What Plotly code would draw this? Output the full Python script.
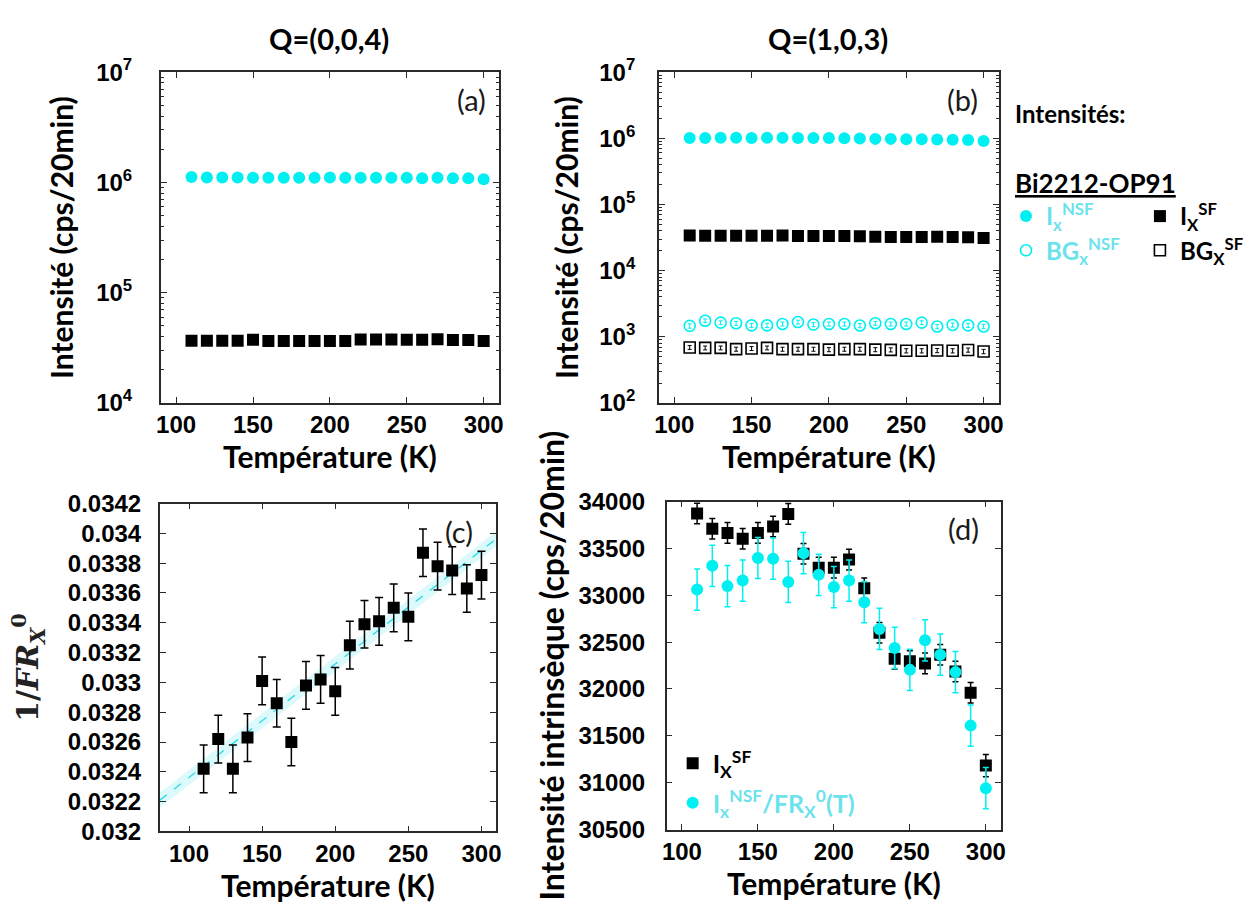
import numpy as np
import plotly.graph_objects as go

W, H = 1260, 917

# ---------------- data ----------------
temperature_K = [110, 120, 130, 140, 150, 160, 170, 180, 190, 200,
                 210, 220, 230, 240, 250, 260, 270, 280, 290, 300]

# (a) Q=(0,0,4)
a_I_nsf = [1.12e6, 1.11e6, 1.11e6, 1.11e6, 1.10e6, 1.10e6, 1.10e6, 1.10e6, 1.10e6, 1.11e6,
           1.10e6, 1.10e6, 1.10e6, 1.10e6, 1.10e6, 1.09e6, 1.10e6, 1.09e6, 1.09e6, 1.07e6]
a_I_sf = [36700, 36700, 36700, 36700, 37400, 36400, 36400, 36400, 36400, 36400,
          36400, 37700, 37700, 37700, 37400, 37400, 37900, 37200, 37200, 36400]

# (b) Q=(1,0,3)
b_I_nsf = [1.01e6, 1.01e6, 1.02e6, 1.02e6, 1.01e6, 1.02e6, 1.02e6, 1.01e6, 1.01e6, 1.01e6,
           1.00e6, 0.99e6, 0.98e6, 0.98e6, 0.97e6, 0.97e6, 0.96e6, 0.95e6, 0.94e6, 0.91e6]
b_I_sf = [33900, 33700, 33700, 33600, 33700, 33700, 33900, 33400, 33300, 33300,
          33400, 33100, 32600, 32300, 32300, 32300, 32400, 32200, 32000, 31200]
b_BG_nsf = [1460, 1750, 1635, 1600, 1490, 1490, 1560, 1670, 1530, 1560,
            1560, 1480, 1600, 1560, 1560, 1635, 1430, 1510, 1490, 1430]
b_BG_nsf_err = [110, 110, 110, 110, 110, 110, 110, 110, 110, 110,
                110, 110, 110, 110, 110, 110, 110, 110, 110, 110]
b_BG_sf = [690, 680, 680, 650, 665, 680, 650, 650, 650, 640,
           650, 650, 640, 635, 615, 615, 620, 615, 630, 600]
b_BG_sf_err = [45, 45, 45, 45, 45, 45, 45, 45, 45, 45,
               45, 45, 45, 45, 45, 45, 45, 45, 45, 45]

# (c) 1/FR_X^0
c_inv_FR = [0.03242, 0.03262, 0.03242, 0.03263, 0.03301, 0.03286, 0.03260, 0.03298, 0.03302, 0.03294,
            0.03325, 0.03339, 0.03341, 0.03350, 0.03344, 0.03387, 0.03378, 0.03375, 0.03363, 0.03372]
c_inv_FR_err = [0.00016, 0.00016, 0.00016, 0.00016, 0.00016, 0.00016, 0.00016, 0.00016, 0.00016, 0.00016,
                0.00016, 0.00016, 0.00016, 0.00016, 0.00016, 0.00016, 0.00016, 0.00016, 0.00016, 0.00016]
c_fit_T = [80, 310]
c_fit_band_half = 0.00005
c_ytickvals = [0.032, 0.0322, 0.0324, 0.0326, 0.0328, 0.033, 0.0332, 0.0334, 0.0336, 0.0338, 0.034, 0.0342]
c_yticktext = ["0.032", "0.0322", "0.0324", "0.0326", "0.0328", "0.033", "0.0332", "0.0334",
               "0.0336", "0.0338", "0.034", "0.0342"]

# (d) intrinsic intensity
d_I_sf = [33873, 33711, 33666, 33604, 33666, 33735, 33869, 33443, 33295, 33295,
          33381, 33074, 32600, 32324, 32297, 32273, 32366, 32187, 31960, 31182]
d_I_sf_err = [110, 110, 110, 110, 110, 110, 110, 110, 110, 110,
              110, 110, 110, 110, 110, 110, 110, 110, 110, 120]
d_I_nsf_corr = [33061, 33315, 33098, 33157, 33398, 33391, 33143, 33449, 33219, 33088,
                33157, 32926, 32641, 32438, 32204, 32520, 32366, 32180, 31609, 30941]
d_I_nsf_corr_err = [220, 220, 220, 220, 220, 220, 220, 220, 220, 220,
                    220, 220, 220, 220, 220, 220, 220, 220, 220, 220]

a_log_ticks = [1e4, 1e5, 1e6, 1e7]
a_log_text = ["10<sup>4</sup>", "10<sup>5</sup>", "10<sup>6</sup>", "10<sup>7</sup>"]
b_log_ticks = [1e2, 1e3, 1e4, 1e5, 1e6, 1e7]
b_log_text = ["10<sup>2</sup>", "10<sup>3</sup>", "10<sup>4</sup>", "10<sup>5</sup>",
              "10<sup>6</sup>", "10<sup>7</sup>"]
minor_mantissas = [2, 3, 4, 5, 6, 7, 8, 9]

# ---------------- styles ----------------
CYAN = "#00F0F2"
CYAN_TXT = "#6CE2EC"
BLACK = "#000000"
AXC = "#2a2a2a"
TICKFONT = dict(family="Liberation Sans", size=24, color="black", weight="bold")
TITLEFONT = dict(family="Lato", size=30, color="black", weight="bold")


def dom_x(l, r):
    return [l / W, r / W]


def dom_y(t, b):
    return [1 - b / H, 1 - t / H]


def base_axis(**kw):
    d = dict(showline=True, linecolor=AXC, linewidth=1.5, mirror="ticks",
             ticks="inside", ticklen=6, tickwidth=1.3, tickcolor=AXC,
             showgrid=False, zeroline=False, tickfont=TICKFONT)
    d.update(kw)
    return d


def log_minor(lo, hi):
    return [m * 10.0 ** e for e in range(lo, hi) for m in minor_mantissas]


fig = go.Figure()

# ----- panel (a) -----
fig.add_trace(go.Scatter(x=temperature_K, y=a_I_nsf, mode="markers", xaxis="x", yaxis="y",
                         marker=dict(symbol="circle", size=12, color=CYAN), showlegend=False))
fig.add_trace(go.Scatter(x=temperature_K, y=a_I_sf, mode="markers", xaxis="x", yaxis="y",
                         marker=dict(symbol="square", size=12, color=BLACK), showlegend=False))

# ----- panel (b) -----
fig.add_trace(go.Scatter(x=temperature_K, y=b_I_nsf, mode="markers", xaxis="x2", yaxis="y2",
                         marker=dict(symbol="circle", size=12, color=CYAN),
                         name="I<sub>x</sub><sup>NSF</sup>", legend="legend2"))
fig.add_trace(go.Scatter(x=temperature_K, y=b_BG_nsf, mode="markers", xaxis="x2", yaxis="y2",
                         marker=dict(symbol="circle-open", size=11, color=CYAN, line=dict(width=1.6)),
                         error_y=dict(type="data", array=b_BG_nsf_err, color=CYAN, thickness=1, width=2),
                         name="BG<sub>x</sub><sup>NSF</sup>", legend="legend2"))
fig.add_trace(go.Scatter(x=temperature_K, y=b_I_sf, mode="markers", xaxis="x2", yaxis="y2",
                         marker=dict(symbol="square", size=12, color=BLACK),
                         name="I<sub>X</sub><sup>SF</sup>", legend="legend3"))
fig.add_trace(go.Scatter(x=temperature_K, y=b_BG_sf, mode="markers", xaxis="x2", yaxis="y2",
                         marker=dict(symbol="square-open", size=11, color=BLACK, line=dict(width=1.6)),
                         error_y=dict(type="data", array=b_BG_sf_err, color=BLACK, thickness=1, width=2),
                         name="BG<sub>X</sub><sup>SF</sup>", legend="legend3"))

# ----- panel (c) -----
slope, intercept = np.polyfit(temperature_K, c_inv_FR, 1)
fit_y = [slope * t + intercept for t in c_fit_T]
fig.add_trace(go.Scatter(x=c_fit_T, y=[v - c_fit_band_half for v in fit_y], mode="lines",
                         xaxis="x3", yaxis="y3", line=dict(width=0, color=CYAN),
                         showlegend=False, hoverinfo="skip"))
fig.add_trace(go.Scatter(x=c_fit_T, y=[v + c_fit_band_half for v in fit_y], mode="lines",
                         xaxis="x3", yaxis="y3", line=dict(width=0, color=CYAN),
                         fill="tonexty", fillcolor="rgba(130,238,246,0.28)",
                         showlegend=False, hoverinfo="skip"))
fig.add_trace(go.Scatter(x=c_fit_T, y=fit_y, mode="lines", xaxis="x3", yaxis="y3",
                         line=dict(width=1.2, color="#19D8E6", dash="dash"), showlegend=False))
fig.add_trace(go.Scatter(x=temperature_K, y=c_inv_FR, mode="markers", xaxis="x3", yaxis="y3",
                         marker=dict(symbol="square", size=12, color=BLACK),
                         error_y=dict(type="data", array=c_inv_FR_err, color=BLACK, thickness=1.5, width=4),
                         showlegend=False))

# ----- panel (d) -----
fig.add_trace(go.Scatter(x=temperature_K, y=d_I_sf, mode="markers", xaxis="x4", yaxis="y4",
                         marker=dict(symbol="square", size=12, color=BLACK),
                         error_y=dict(type="data", array=d_I_sf_err, color=BLACK, thickness=1.5, width=3),
                         name="I<sub>X</sub><sup>SF</sup>", legend="legend4", legendgroup="d1"))
fig.add_trace(go.Scatter(x=temperature_K, y=d_I_nsf_corr, mode="markers", xaxis="x4", yaxis="y4",
                         marker=dict(symbol="circle", size=12, color=CYAN),
                         error_y=dict(type="data", array=d_I_nsf_corr_err, color=CYAN, thickness=1.5, width=3),
                         name='<span style="color:%s">I<sub>x</sub><sup>NSF</sup>/FR<sub>X</sub><sup>0</sup>(T)</span>' % CYAN_TXT,
                         legend="legend4", legendgroup="d2"))

xaxis_common = dict(dtick=50, tick0=0,
                    title=dict(text="Température (K)", font=TITLEFONT, standoff=2))

legend_common = dict(xanchor="left", yanchor="top", bgcolor="rgba(0,0,0,0)",
                     borderwidth=0, itemsizing="trace")

fig.update_layout(
    width=W, height=H, margin=dict(l=0, r=0, t=0, b=0),
    paper_bgcolor="white", plot_bgcolor="white",
    xaxis=base_axis(domain=dom_x(157, 498), range=[90, 310], anchor="y", **xaxis_common),
    yaxis=base_axis(domain=dom_y(57, 399), type="log", range=[4, 7], anchor="x",
                    tickvals=a_log_ticks, ticktext=a_log_text, ticklabelstandoff=22,
                    minor=dict(tickvals=log_minor(4, 7), ticks="inside", ticklen=3, tickwidth=1, tickcolor=AXC),
                    title=dict(text="Intensité (cps/20min)", font=TITLEFONT, standoff=14)),
    xaxis2=base_axis(domain=dom_x(659, 1002), range=[90, 310], anchor="y2", **xaxis_common),
    yaxis2=base_axis(domain=dom_y(57, 399), type="log", range=[2, 7], anchor="x2",
                     tickvals=b_log_ticks, ticktext=b_log_text, ticklabelstandoff=17,
                     minor=dict(tickvals=log_minor(2, 7), ticks="inside", ticklen=3, tickwidth=1, tickcolor=AXC),
                     title=dict(text="Intensité (cps/20min)", font=TITLEFONT, standoff=12)),
    xaxis3=base_axis(domain=dom_x(156, 495), range=[80, 310], anchor="y3", **xaxis_common),
    yaxis3=base_axis(domain=dom_y(503, 842), range=[0.032, 0.0342], anchor="x3",
                     tickvals=c_ytickvals, ticktext=c_yticktext, ticklabelstandoff=12,
                     title=dict(text="<b>1/<i>FR</i><sub><i>X</i></sub><sup>0</sup></b>",
                                font=dict(family="DejaVu Serif", size=30, color="#222"), standoff=20)),
    xaxis4=base_axis(domain=dom_x(667, 1004), range=[90, 310], anchor="y4", **xaxis_common),
    yaxis4=base_axis(domain=dom_y(501, 840), range=[30500, 34000], anchor="x4",
                     dtick=500, tick0=0, tickformat="d", ticklabelstandoff=15,
                     title=dict(text="Intensité intrinsèque (cps/20min)",
                                font=dict(family="Lato", size=32, color="black", weight="bold"), standoff=4)),
    legend2=dict(x=1009 / W, y=1 - 183 / H, tracegroupgap=0,
                 font=dict(family="Lato", size=24, color=CYAN_TXT, weight="bold"), **legend_common),
    legend3=dict(x=1144 / W, y=1 - 183 / H, tracegroupgap=0,
                 font=dict(family="Lato", size=24, color="black", weight="bold"), **legend_common),
    legend4=dict(x=673 / W, y=1 - 748 / H, tracegroupgap=4,
                 font=dict(family="Lato", size=25, color="black", weight="bold"), **legend_common),
)

ann_font_title = dict(family="Lato", size=29, color="black", weight="bold")
ann_font_lbl = dict(family="Lato", size=29, color="#1a1a1a")
annotations = [
    dict(text="Q=(0,0,4)", x=327 / W, y=1 - 22 / H, font=ann_font_title),
    dict(text="Q=(1,0,3)", x=830 / W, y=1 - 22 / H, font=ann_font_title),
    dict(text="(a)", x=470 / W, y=1 - 85 / H, font=ann_font_lbl),
    dict(text="(b)", x=965 / W, y=1 - 85 / H, font=ann_font_lbl),
    dict(text="(c)", x=458 / W, y=1 - 532 / H, font=ann_font_lbl),
    dict(text="(d)", x=966 / W, y=1 - 529 / H, font=ann_font_lbl),
    dict(text="Intensités:", x=1016 / W, y=1 - 100 / H, xanchor="left",
         font=dict(family="Lato", size=24, color="black", weight="bold")),
    dict(text="<u>Bi2212-OP91</u>", x=1016 / W, y=1 - 172 / H, xanchor="left",
         font=dict(family="Lato", size=26, color="black", weight="bold")),
]
for a in annotations:
    a.setdefault("xanchor", "center")
    a.update(xref="paper", yref="paper", yanchor="middle", showarrow=False)
fig.update_layout(annotations=annotations)

fig.write_html("out.html", config={"displayModeBar": False},
               post_script="document.body.style.margin='0';")
